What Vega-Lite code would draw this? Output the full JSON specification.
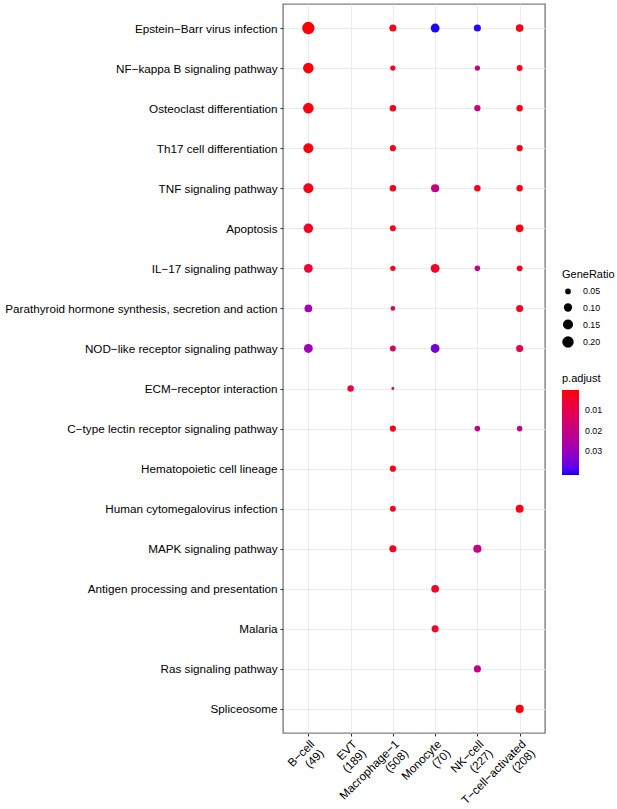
{
  "$schema": "https://vega.github.io/schema/vega-lite/v6.json",
  "width": 262,
  "height": 729,
  "autosize": {"type": "none"},
  "padding": {"left": 283, "top": 4, "right": 72, "bottom": 76},
  "background": "white",
  "config": {
    "font": "Liberation Sans",
    "view": {"stroke": "#7f7f7f", "strokeWidth": 1.4},
    "axis": {
      "grid": true,
      "gridColor": "#ebebeb",
      "gridWidth": 1,
      "domain": false,
      "tickColor": "#333333",
      "tickSize": 3,
      "tickWidth": 1,
      "labelColor": "black",
      "labelFont": "Liberation Sans",
      "labelFontSize": 11.7,
      "labelLimit": 0,
      "title": null
    },
    "legend": {
      "titleFont": "Liberation Sans",
      "titleFontSize": 11,
      "titleFontWeight": "normal",
      "titleColor": "black",
      "labelFont": "Liberation Sans",
      "labelFontSize": 8.8,
      "labelColor": "black",
      "padding": 0
    }
  },
  "data": {
    "values": [
      {"term": "Epstein−Barr virus infection", "cell": "B−cell\n(49)", "GeneRatio": 0.24, "padj": 0.0005},
      {"term": "Epstein−Barr virus infection", "cell": "Macrophage−1\n(508)", "GeneRatio": 0.074, "padj": 0.002},
      {"term": "Epstein−Barr virus infection", "cell": "Monocyte\n(70)", "GeneRatio": 0.115, "padj": 0.041},
      {"term": "Epstein−Barr virus infection", "cell": "NK−cell\n(227)", "GeneRatio": 0.074, "padj": 0.0405},
      {"term": "Epstein−Barr virus infection", "cell": "T−cell−activated\n(208)", "GeneRatio": 0.087, "padj": 0.002},
      {"term": "NF−kappa B signaling pathway", "cell": "B−cell\n(49)", "GeneRatio": 0.17, "padj": 0.0005},
      {"term": "NF−kappa B signaling pathway", "cell": "Macrophage−1\n(508)", "GeneRatio": 0.045, "padj": 0.003},
      {"term": "NF−kappa B signaling pathway", "cell": "NK−cell\n(227)", "GeneRatio": 0.045, "padj": 0.02},
      {"term": "NF−kappa B signaling pathway", "cell": "T−cell−activated\n(208)", "GeneRatio": 0.054, "padj": 0.002},
      {"term": "Osteoclast differentiation", "cell": "B−cell\n(49)", "GeneRatio": 0.17, "padj": 0.001},
      {"term": "Osteoclast differentiation", "cell": "Macrophage−1\n(508)", "GeneRatio": 0.063, "padj": 0.002},
      {"term": "Osteoclast differentiation", "cell": "NK−cell\n(227)", "GeneRatio": 0.058, "padj": 0.02},
      {"term": "Osteoclast differentiation", "cell": "T−cell−activated\n(208)", "GeneRatio": 0.063, "padj": 0.002},
      {"term": "Th17 cell differentiation", "cell": "B−cell\n(49)", "GeneRatio": 0.149, "padj": 0.001},
      {"term": "Th17 cell differentiation", "cell": "Macrophage−1\n(508)", "GeneRatio": 0.058, "padj": 0.002},
      {"term": "Th17 cell differentiation", "cell": "T−cell−activated\n(208)", "GeneRatio": 0.058, "padj": 0.002},
      {"term": "TNF signaling pathway", "cell": "B−cell\n(49)", "GeneRatio": 0.149, "padj": 0.002},
      {"term": "TNF signaling pathway", "cell": "Macrophage−1\n(508)", "GeneRatio": 0.063, "padj": 0.002},
      {"term": "TNF signaling pathway", "cell": "Monocyte\n(70)", "GeneRatio": 0.099, "padj": 0.02},
      {"term": "TNF signaling pathway", "cell": "NK−cell\n(227)", "GeneRatio": 0.063, "padj": 0.003},
      {"term": "TNF signaling pathway", "cell": "T−cell−activated\n(208)", "GeneRatio": 0.063, "padj": 0.002},
      {"term": "Apoptosis", "cell": "B−cell\n(49)", "GeneRatio": 0.133, "padj": 0.004},
      {"term": "Apoptosis", "cell": "Macrophage−1\n(508)", "GeneRatio": 0.054, "padj": 0.002},
      {"term": "Apoptosis", "cell": "T−cell−activated\n(208)", "GeneRatio": 0.087, "padj": 0.001},
      {"term": "IL−17 signaling pathway", "cell": "B−cell\n(49)", "GeneRatio": 0.115, "padj": 0.006},
      {"term": "IL−17 signaling pathway", "cell": "Macrophage−1\n(508)", "GeneRatio": 0.045, "padj": 0.002},
      {"term": "IL−17 signaling pathway", "cell": "Monocyte\n(70)", "GeneRatio": 0.115, "padj": 0.004},
      {"term": "IL−17 signaling pathway", "cell": "NK−cell\n(227)", "GeneRatio": 0.049, "padj": 0.02},
      {"term": "IL−17 signaling pathway", "cell": "T−cell−activated\n(208)", "GeneRatio": 0.054, "padj": 0.003},
      {"term": "Parathyroid hormone synthesis, secretion and action", "cell": "B−cell\n(49)", "GeneRatio": 0.087, "padj": 0.028},
      {"term": "Parathyroid hormone synthesis, secretion and action", "cell": "Macrophage−1\n(508)", "GeneRatio": 0.037, "padj": 0.012},
      {"term": "Parathyroid hormone synthesis, secretion and action", "cell": "T−cell−activated\n(208)", "GeneRatio": 0.074, "padj": 0.003},
      {"term": "NOD−like receptor signaling pathway", "cell": "B−cell\n(49)", "GeneRatio": 0.115, "padj": 0.029},
      {"term": "NOD−like receptor signaling pathway", "cell": "Macrophage−1\n(508)", "GeneRatio": 0.054, "padj": 0.014},
      {"term": "NOD−like receptor signaling pathway", "cell": "Monocyte\n(70)", "GeneRatio": 0.115, "padj": 0.035},
      {"term": "NOD−like receptor signaling pathway", "cell": "T−cell−activated\n(208)", "GeneRatio": 0.074, "padj": 0.01},
      {"term": "ECM−receptor interaction", "cell": "EVT\n(189)", "GeneRatio": 0.063, "padj": 0.006},
      {"term": "ECM−receptor interaction", "cell": "Macrophage−1\n(508)", "GeneRatio": 0.022, "padj": 0.01},
      {"term": "C−type lectin receptor signaling pathway", "cell": "Macrophage−1\n(508)", "GeneRatio": 0.058, "padj": 0.002},
      {"term": "C−type lectin receptor signaling pathway", "cell": "NK−cell\n(227)", "GeneRatio": 0.049, "padj": 0.02},
      {"term": "C−type lectin receptor signaling pathway", "cell": "T−cell−activated\n(208)", "GeneRatio": 0.049, "padj": 0.02},
      {"term": "Hematopoietic cell lineage", "cell": "Macrophage−1\n(508)", "GeneRatio": 0.058, "padj": 0.002},
      {"term": "Human cytomegalovirus infection", "cell": "Macrophage−1\n(508)", "GeneRatio": 0.054, "padj": 0.003},
      {"term": "Human cytomegalovirus infection", "cell": "T−cell−activated\n(208)", "GeneRatio": 0.093, "padj": 0.002},
      {"term": "MAPK signaling pathway", "cell": "Macrophage−1\n(508)", "GeneRatio": 0.074, "padj": 0.003},
      {"term": "MAPK signaling pathway", "cell": "NK−cell\n(227)", "GeneRatio": 0.099, "padj": 0.02},
      {"term": "Antigen processing and presentation", "cell": "Monocyte\n(70)", "GeneRatio": 0.087, "padj": 0.004},
      {"term": "Malaria", "cell": "Monocyte\n(70)", "GeneRatio": 0.074, "padj": 0.004},
      {"term": "Ras signaling pathway", "cell": "NK−cell\n(227)", "GeneRatio": 0.074, "padj": 0.02},
      {"term": "Spliceosome", "cell": "T−cell−activated\n(208)", "GeneRatio": 0.099, "padj": 0.001}
    ]
  },
  "mark": {"type": "circle", "opacity": 1},
  "encoding": {
    "x": {
      "field": "cell",
      "type": "nominal",
      "sort": ["B−cell\n(49)", "EVT\n(189)", "Macrophage−1\n(508)", "Monocyte\n(70)", "NK−cell\n(227)", "T−cell−activated\n(208)"],
      "scale": {"padding": 0.6},
      "axis": {
        "labelAngle": -45,
        "labelAlign": "right",
        "labelBaseline": "top",
        "labelLineHeight": 13,
        "labelPadding": 2,
        "labelExpr": "split(datum.label, '\\n')"
      }
    },
    "y": {
      "field": "term",
      "type": "nominal",
      "sort": ["Epstein−Barr virus infection", "NF−kappa B signaling pathway", "Osteoclast differentiation", "Th17 cell differentiation", "TNF signaling pathway", "Apoptosis", "IL−17 signaling pathway", "Parathyroid hormone synthesis, secretion and action", "NOD−like receptor signaling pathway", "ECM−receptor interaction", "C−type lectin receptor signaling pathway", "Hematopoietic cell lineage", "Human cytomegalovirus infection", "MAPK signaling pathway", "Antigen processing and presentation", "Malaria", "Ras signaling pathway", "Spliceosome"],
      "scale": {"padding": 0.6},
      "axis": {"labelPadding": 3}
    },
    "size": {
      "field": "GeneRatio",
      "type": "quantitative",
      "scale": {"type": "pow", "exponent": 0.8, "domain": [0.02, 0.24], "range": [7, 154], "zero": false, "nice": false},
      "legend": {
        "title": "GeneRatio",
        "orient": "none",
        "legendX": 279,
        "legendY": 265,
        "values": [0.05, 0.1, 0.15, 0.2],
        "format": ".2f",
        "symbolType": "circle",
        "symbolFillColor": "black",
        "symbolStrokeColor": "black",
        "symbolStrokeWidth": 0,
        "symbolOpacity": 1,
        "titlePadding": 7,
        "rowPadding": 6,
        "labelOffset": 9
      }
    },
    "color": {
      "field": "padj",
      "type": "quantitative",
      "scale": {"domain": [0.0415, 0], "range": ["#0000ff", "#ff0000"], "interpolate": "lab", "nice": false, "zero": false},
      "legend": {
        "title": "p.adjust",
        "orient": "none",
        "legendX": 279,
        "legendY": 369,
        "values": [0.01, 0.02, 0.03],
        "format": ".2f",
        "gradientLength": 85,
        "gradientThickness": 17,
        "gradientStrokeWidth": 0,
        "titlePadding": 6,
        "labelOffset": 6
      }
    }
  }
}
